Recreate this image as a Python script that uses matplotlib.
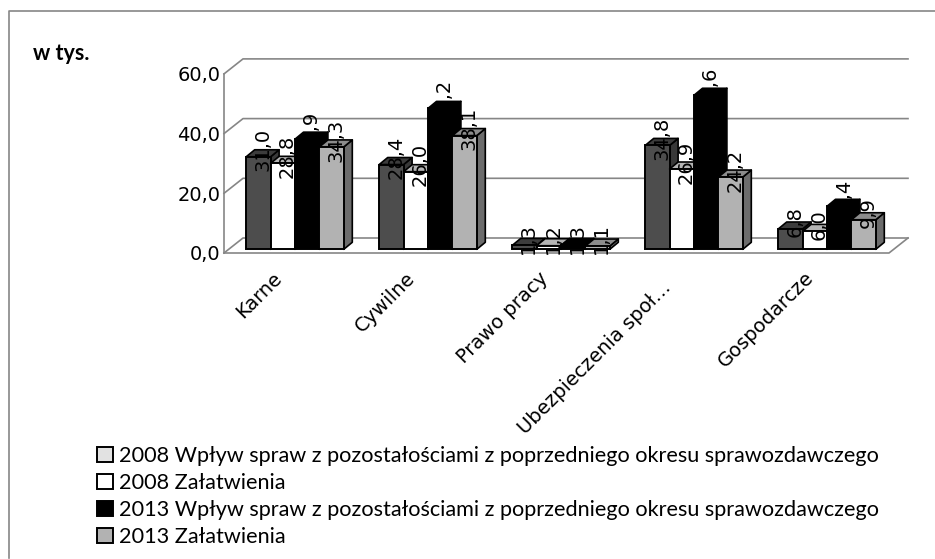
import matplotlib
matplotlib.use("Agg")
import matplotlib.pyplot as plt
from matplotlib.patches import Polygon, Patch
from matplotlib.lines import Line2D
from matplotlib.transforms import ScaledTranslation

W, H = 935, 559
categories = ["Karne", "Cywilne", "Prawo pracy", "Ubezpieczenia społ…", "Gospodarcze"]
s2008_wplyw = [31.0, 28.4, 1.3, 34.8, 6.8]
s2008_zal = [28.8, 26.0, 1.2, 26.9, 6.0]
s2013_wplyw = [36.9, 47.2, 1.3, 51.6, 14.4]
s2013_zal = [34.3, 38.1, 1.1, 24.2, 9.9]
series = [s2008_wplyw, s2008_zal, s2013_wplyw, s2013_zal]
series_names = [
    "2008 Wpływ spraw z pozostałościami z poprzedniego okresu sprawozdawczego",
    "2008 Załatwienia",
    "2013 Wpływ spraw z pozostałościami z poprzedniego okresu sprawozdawczego",
    "2013 Załatwienia",
]
front_colors = ["#4d4d4d", "#ffffff", "#000000", "#b2b2b2"]
top_colors = ["#3c3c3c", "#b4b4b4", "#000000", "#8c8c8c"]
side_colors = ["#383838", "#8c8c8c", "#000000", "#6c6c6c"]
legend_colors = ["#e2e2e2", "#ffffff", "#000000", "#b2b2b2"]
yticks = [0, 20, 40, 60]
ytick_labels = ["0,0", "20,0", "40,0", "60,0"]

fig = plt.figure(figsize=(W / 100, H / 100), dpi=100, facecolor="white")

# border of the chart area: open at the right and at the bottom
fig.add_artist(Line2D([8.5 / W, 8.5 / W, 1.0],
                      [1 - 558 / H, 1 - 10.5 / H, 1 - 10.5 / H],
                      color="#868686", lw=1.2))

ax = fig.add_axes([224 / W, 1 - 253 / H, 665 / W, 179.1 / H])
ax.set_xlim(-0.5, 4.5)
ax.set_ylim(0, 60)
ax.patch.set_visible(False)
for k in ("top", "right", "bottom"):
    ax.spines[k].set_visible(False)
ax.spines["left"].set_color("#868686")
ax.spines["left"].set_linewidth(1.2)

PX = 5 / 665      # data x per pixel
PY = 60 / 179.1   # data y per pixel
grid = "#868686"

# perspective offsets, pixels
WALL_DX, WALL_DY = 19 * PX, 15 * PY
BAR_DX, BAR_DY = 4.5 * PX, 3.7 * PY
DEPTH_X, DEPTH_Y = 8.5 * PX, 7 * PY
BAR_W = 24.4 * PX

for t in yticks:
    ax.plot([-0.5, -0.5 + WALL_DX, 4.5 + WALL_DX], [t, t + WALL_DY, t + WALL_DY],
            color=grid, lw=1.2, clip_on=False, zorder=1)
ax.plot([-0.5, 4.5, 4.5 + WALL_DX], [0, 0, WALL_DY], color=grid, lw=1.2, clip_on=False, zorder=1)

z = 2
for j, vals in enumerate(series):
    for i, v in enumerate(vals):
        x0 = i + (j - 2) * BAR_W + BAR_DX
        x1 = x0 + BAR_W
        y0 = BAR_DY
        y1 = v + BAR_DY
        ax.add_patch(Polygon([(x1, y0), (x1 + DEPTH_X, y0 + DEPTH_Y), (x1 + DEPTH_X, y1 + DEPTH_Y), (x1, y1)],
                             fc=side_colors[j], ec="black", lw=1.2, clip_on=False, zorder=z, joinstyle="round"))
        ax.add_patch(Polygon([(x0, y1), (x0 + DEPTH_X, y1 + DEPTH_Y), (x1 + DEPTH_X, y1 + DEPTH_Y), (x1, y1)],
                             fc=top_colors[j], ec="black", lw=1.2, clip_on=False, zorder=z, joinstyle="round"))
        ax.bar(x0 + BAR_W / 2, v, BAR_W, bottom=y0, color=front_colors[j],
               edgecolor="black", linewidth=1.4, zorder=z, clip_on=False)
        ax.text(x0 + BAR_W / 2 + DEPTH_X / 2, y1 + DEPTH_Y, f"{v:.1f}".replace(".", ","),
                rotation=90, ha="center", va="center", fontsize=14, color="black",
                zorder=z, clip_on=False)
    z += 1

ax.set_yticks(yticks, ytick_labels, fontsize=14, color="black")
ax.tick_params(axis="y", length=0, pad=2.5)
ax.set_xticks(range(len(categories)))
ax.set_xticklabels(categories, rotation=45, ha="right", va="top", rotation_mode="anchor",
                   fontsize=14, color="black")
ax.tick_params(axis="x", length=0, pad=11)
label_shift_px = [(-18, 0), (-18, 0), (-18, 0), (-28, -10), (-18, 0)]
for lab, (dx, dy) in zip(ax.get_xticklabels(), label_shift_px):
    lab.set_transform(lab.get_transform() + ScaledTranslation(dx / 100, dy / 100, fig.dpi_scale_trans))

fig.text(33 / W, 1 - 54 / H, "w tys.", fontsize=15.5, fontweight="bold", family="Lato",
         color="black", va="center", ha="left")

handles = [Patch(fc=c, ec="black", lw=1.4) for c in legend_colors]
leg = fig.legend(handles, series_names, loc="upper left", bbox_to_anchor=(97 / W, 1 - 446 / H),
                 frameon=False, ncol=1, prop={"family": "Lato", "size": 15.55},
                 handlelength=0.74, handleheight=0.74, handletextpad=0.28,
                 labelspacing=0.325, borderaxespad=0, borderpad=0)
for t in leg.get_texts():
    t.set_color("black")

fig.savefig("out.png", dpi=100, facecolor="white")
